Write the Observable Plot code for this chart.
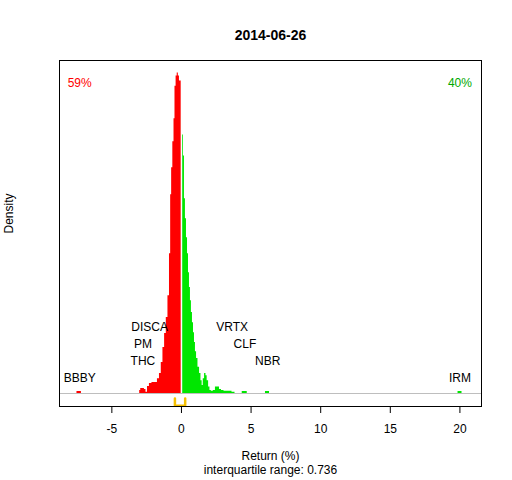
<!DOCTYPE html>
<html>
<head>
<meta charset="utf-8">
<script src="https://cdn.jsdelivr.net/npm/d3@7"></script>
<script src="https://cdn.jsdelivr.net/npm/@observablehq/plot@0.6"></script>
<style>
  html, body { margin: 0; padding: 0; background: #fff; }
</style>
</head>
<body>
<div id="chart"></div>
<script>
// ---- data ----
const title = "2014-06-26";
const xTicks = [-5, 0, 5, 10, 15, 20];
const pctLabels = ["59%", "40%"];

// kernel density of returns (x in %, density)
const densX = [-7.61, -7.40, -7.26, -7.11, -3.02, -2.98, -2.87, -2.73, -2.59, -2.51, -2.37, -2.23, -2.01, -1.80, -1.65, -1.51, -1.39, -1.27, -1.15, -1.03, -0.91, -0.81, -0.74, -0.67, -0.57, -0.50, -0.43, -0.34, -0.27, -0.18, -0.11,
  0.04, 0.11, 0.18, 0.25, 0.32, 0.40, 0.47, 0.54, 0.61, 0.68, 0.75, 0.83, 0.90, 0.97, 1.04, 1.13, 1.24, 1.36, 1.44, 1.53, 1.60, 1.72, 1.80, 1.89, 2.01, 2.08, 2.21, 2.37, 2.51, 2.66, 2.80, 2.95, 3.16, 3.52, 3.74, 3.95, 4.31, 4.42, 4.67, 4.78, 6.00, 6.07, 6.29, 6.36, 19.83, 19.90, 20.11, 20.19];
const densY = [0, 0.006, 0.006, 0, 0, 0.009, 0.015, 0.015, 0.012, 0.004, 0.021, 0.030, 0.033, 0.033, 0.044, 0.059, 0.092, 0.136, 0.178, 0.225, 0.290, 0.414, 0.589, 0.669, 0.746, 0.814, 0.911, 0.941, 0.950, 0.941, 0.926,
  0.822, 0.766, 0.704, 0.577, 0.518, 0.462, 0.414, 0.358, 0.314, 0.275, 0.240, 0.210, 0.180, 0.151, 0.124, 0.104, 0.078, 0.059, 0.038, 0.024, 0.044, 0.059, 0.053, 0.038, 0.019, 0.009, 0.007, 0.009, 0.019, 0.019, 0.012, 0.009, 0.007, 0.007, 0.004, 0, 0, 0.006, 0.006, 0, 0, 0.006, 0.006, 0, 0, 0.006, 0.006, 0];

// labelled extreme stocks
const stockNames = ["DISCA", "PM", "THC", "BBBY", "VRTX", "CLF", "NBR", "IRM"];
const stockRets = [-2.29, -2.77, -2.77, -7.31, 3.64, 4.56, 6.19, 20.0];

// interquartile range
const q1 = -0.47, q3 = 0.266;
const iqrText = "interquartile range: 0.736";

// ---- build ----
const dens = densX.map((x, i) => ({x, d: densY[i]}));
const neg = dens.filter(p => p.x < 0);
const pos = dens.filter(p => p.x > 0);
neg.push({x: 0, d: neg[neg.length - 1].d});
pos.unshift({x: 0, d: pos[0].d});

const stocks = stockNames.map((name, i) => ({name, ret: stockRets[i]}));
// rank by distance from zero within each side (closest = top row)
for (const side of [s => s.ret < 0, s => s.ret > 0]) {
  const grp = stocks.filter(side).sort((a, b) => Math.abs(a.ret) - Math.abs(b.ret));
  grp.forEach((s, i) => s.rank = i);
}
const minRet = d3.min(stockRets), maxRet = d3.max(stockRets);

const RED = "#ff0000", GREEN = "#00e600", GOLD = "#f5c000";
const rowMarks = [0, 1, 2, 3].map(r =>
  Plot.text(stocks.filter(s => s.rank === r), {
    x: "ret", y: () => 0, text: "name", dy: -(15 + (3 - r) * 17), fontSize: 12, fill: "black"
  })
);

const bracketDepth = [-0.015, -0.036];
const bracket = [
  {x: q1, y: bracketDepth[0]}, {x: q1, y: bracketDepth[1]},
  {x: q3, y: bracketDepth[1]}, {x: q3, y: bracketDepth[0]}
];

const chart = Plot.plot({
  width: 512,
  height: 480,
  marginLeft: 59,
  marginRight: 31,
  marginTop: 60,
  marginBottom: 74,
  style: {fontFamily: "'Liberation Sans', Arial, sans-serif", fontSize: "12px", background: "white", color: "black"},
  x: {domain: [-8.76, 21.55]},
  y: {domain: [-0.0385, 0.987], axis: null},
  marks: [
    Plot.areaY(neg, {x: "x", y: "d", fill: RED, curve: "step"}),
    Plot.areaY(pos, {x: "x", y: "d", fill: GREEN, curve: "step"}),
    Plot.ruleX([0], {stroke: "white", strokeWidth: 1.5, y1: 0, y2: 0.96}),
    Plot.ruleY([0], {stroke: "#bebebe", strokeWidth: 1}),
    Plot.line(bracket, {x: "x", y: "y", stroke: GOLD, strokeWidth: 2.5}),
    ...rowMarks,
    Plot.text([pctLabels[0]], {x: () => minRet, frameAnchor: "top", dy: 18, fill: RED, fontSize: 12}),
    Plot.text([pctLabels[1]], {x: () => maxRet, frameAnchor: "top", dy: 18, fill: "#00a800", fontSize: 12}),
    Plot.frame({stroke: "black"}),
    Plot.axisX({ticks: xTicks, tickSize: 7, tickPadding: 11, fontSize: 12, label: null, tickFormat: d => String(d)}),
    Plot.text([title], {frameAnchor: "top", dy: -30, fontWeight: "bold", fontSize: 14}),
    Plot.text(["Density"], {frameAnchor: "left", dx: -50, rotate: -90, fontSize: 12}),
    Plot.text(["Return (%)"], {frameAnchor: "bottom", dy: 53, fontSize: 12}),
    Plot.text([iqrText], {frameAnchor: "bottom", dy: 67, fontSize: 12})
  ]
});
document.getElementById("chart").appendChild(chart);
</script>
</body>
</html>
